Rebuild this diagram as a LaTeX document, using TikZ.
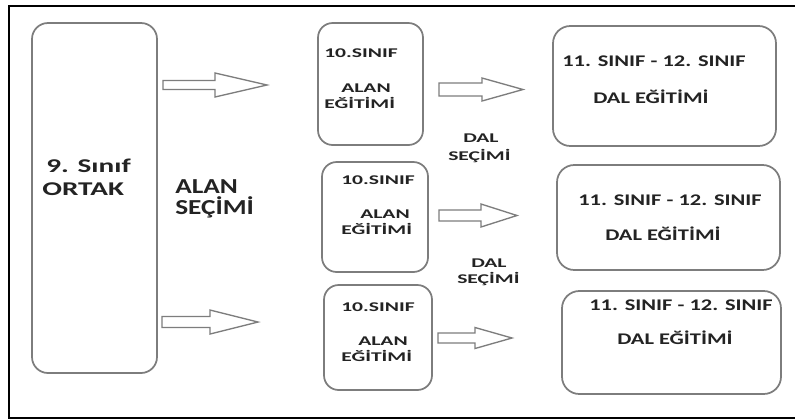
\documentclass[tikz,border=0pt]{standalone}
\usepackage{fontspec}
\setmainfont{Carlito}
\newfontfamily\fmid{Carlito}[FakeStretch=1.62]
\newfontfamily\fright{Carlito}[FakeStretch=1.38]
\newfontfamily\fbig{Carlito}[FakeStretch=1.5]
\newfontfamily\falan{Carlito}[FakeStretch=1.28]
\usetikzlibrary{fit}
\definecolor{boxgray}{RGB}{125,125,125}
\definecolor{txtcol}{RGB}{35,35,35}
\newcommand\blockarrow[6]{%
  \draw[arr] (#1,{#4-#5}) -- (#2,{#4-#5}) -- (#2,{#4-#6}) -- (#3,#4)
    -- (#2,{#4+#6}) -- (#2,{#4+#5}) -- (#1,{#4+#5}) -- cycle;}
\tikzset{
  box/.style={draw=boxgray, line width=1.3pt, rounded corners=11pt, inner sep=0pt},
  arr/.style={draw=boxgray, line width=1pt, line join=miter},
  txt/.style={anchor=base west, inner sep=0pt, text=txtcol},
  midtxt/.style={txt, font=\fmid\bfseries\fontsize{10}{12}\selectfont},
  righttxt/.style={txt, font=\fright\bfseries\fontsize{12.2}{14}\selectfont},
  bigtxt/.style={txt, font=\fbig\bfseries\fontsize{14.6}{17}\selectfont},
  alantxt/.style={txt, font=\falan\bfseries\fontsize{16}{18}\selectfont},
}
\begin{document}
\begin{tikzpicture}[x=0.75pt, y=-0.75pt]
\useasboundingbox (0,0) rectangle (795,419);
\fill[white] (0,0) rectangle (795,419);
% frame
\draw[line width=1.5pt] (800,5.5) -- (8.5,5.5) -- (8.5,417.5) -- (800,417.5);

% boxes
\node[box, rounded corners=12pt, fit={(32,23) (157,373)}] (big) {};
\node[box, fit={(318,23) (423,145)}] (m1) {};
\node[box, fit={(322,162) (428,272)}] (m2) {};
\node[box, fit={(324,285) (432,390)}] (m3) {};
\node[box, rounded corners=13pt, fit={(553,26) (776,146)}] (r1) {};
\node[box, rounded corners=13pt, fit={(557,165) (780,270)}] (r2) {};
\node[box, rounded corners=13pt, fit={(562,291) (781,394)}] (r3) {};

% big texts
\node[bigtxt] (t9) at (46,172) {9. Sınıf};
\node[bigtxt] (tortak) at (42,195) {ORTAK};
\node[alantxt] (talan) at (175,193) {ALAN};
\node[alantxt] (tsecim) at (175,214) {SEÇİMİ};

% middle boxes
\node[midtxt] (m1a) at (324,57) {10.SINIF};
\node[midtxt] (m1b) at (341,92) {ALAN};
\node[midtxt] (m1c) at (324,108) {EĞİTİMİ};
\node[midtxt] (m2a) at (341,184) {10.SINIF};
\node[midtxt] (m2b) at (360,218) {ALAN};
\node[midtxt] (m2c) at (341,234) {EĞİTİMİ};
\node[midtxt] (m3a) at (341,311) {10.SINIF};
\node[midtxt] (m3b) at (358,345) {ALAN};
\node[midtxt] (m3c) at (341,361) {EĞİTİMİ};

% DAL SECIMI labels
\node[midtxt] (d1a) at (463,142) {DAL};
\node[midtxt] (d1b) at (448,160) {SEÇİMİ};
\node[midtxt] (d2a) at (471,267) {DAL};
\node[midtxt] (d2b) at (457,283) {SEÇİMİ};

% right boxes
\node[righttxt] (r1a) at (562,66) {11. SINIF - 12. SINIF};
\node[righttxt] (r1b) at (593,103) {DAL EĞİTİMİ};
\node[righttxt] (r2a) at (578,205) {11. SINIF - 12. SINIF};
\node[righttxt] (r2b) at (605,240) {DAL EĞİTİMİ};
\node[righttxt] (r3a) at (589,310) {11. SINIF - 12. SINIF};
\node[righttxt] (r3b) at (617,344) {DAL EĞİTİMİ};

% block arrows
\blockarrow{163}{215}{267}{85}{4.5}{12}
\blockarrow{162}{210}{258}{322}{5.5}{12}
\blockarrow{439}{482}{523}{89.5}{6.5}{11.5}
\blockarrow{439}{481}{517}{215.5}{5.5}{11.5}
\blockarrow{438}{475}{512}{338}{5}{10.5}
\end{tikzpicture}
\end{document}
